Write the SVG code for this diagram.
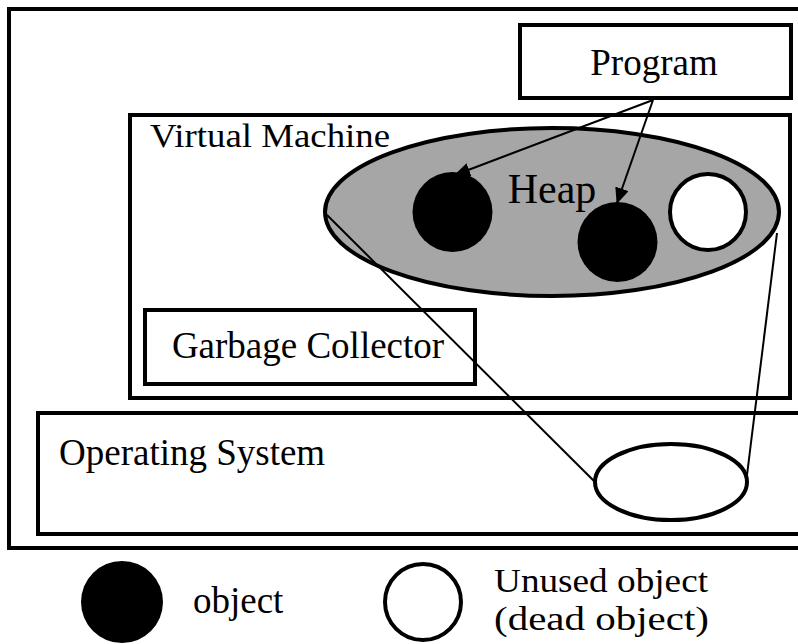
<svg xmlns="http://www.w3.org/2000/svg" width="798" height="644" viewBox="0 0 798 644">
  <style>
    .box { fill: #ffffff; stroke: #000000; stroke-width: 4; }
    .lbl { font-family: "Liberation Serif", "Times New Roman", serif; font-size: 37px; fill: #000000; }
    .sm { font-size: 34px; }
    .big { font-size: 42px; }
    .obj { fill: #000000; }
    .dead { fill: #ffffff; stroke: #000000; stroke-width: 4; }
    .wire { fill: none; stroke: #000000; stroke-width: 2; }
    .ref { fill: none; stroke: #000000; stroke-width: 2; marker-end: url(#arrow); }
  </style>
  <defs>
    <marker id="arrow" markerUnits="userSpaceOnUse" markerWidth="16" markerHeight="14" refX="15" refY="7" orient="auto">
      <path d="M0,0 L16,7 L0,14 Z" fill="#000000"/>
    </marker>
  </defs>

  <rect width="798" height="644" fill="#ffffff"/>

  <!-- whole computer -->
  <g id="computer">
    <rect class="box" x="9" y="9" width="800" height="539"/>
  </g>

  <g id="program">
    <rect class="box" x="520" y="25" width="271" height="73"/>
    <text class="lbl" x="654" y="75" text-anchor="middle">Program</text>
  </g>

  <g id="virtual-machine">
    <rect class="box" x="130" y="115" width="660" height="283"/>
    <text class="lbl sm" x="150" y="147" textLength="240" lengthAdjust="spacingAndGlyphs">Virtual Machine</text>
  </g>

  <g id="garbage-collector">
    <rect class="box" x="145" y="310" width="330" height="74"/>
    <text class="lbl" x="308" y="358" text-anchor="middle">Garbage Collector</text>
  </g>

  <g id="operating-system">
    <rect class="box" x="38" y="413" width="770" height="121"/>
    <text class="lbl" x="59" y="465">Operating System</text>
  </g>

  <g id="heap">
    <ellipse cx="552" cy="212" rx="227" ry="84" fill="#a6a6a6" stroke="#000000" stroke-width="4"/>
    <text class="lbl big" x="552" y="202.5" text-anchor="middle">Heap</text>
  </g>

  <g id="heap-in-os">
    <ellipse class="box" cx="671" cy="482" rx="76" ry="38"/>
  </g>

  <!-- connectors -->
  <g id="connectors">
    <line class="ref" x1="653" y1="100" x2="455" y2="175"/>
    <line class="ref" x1="653" y1="100" x2="617" y2="203"/>
    <line class="wire" x1="327" y1="215" x2="594" y2="481"/>
    <line class="wire" x1="777" y1="233" x2="747" y2="475"/>
  </g>

  <g id="object-a">
    <circle class="obj" cx="452.5" cy="212" r="40"/>
  </g>
  <g id="object-b">
    <circle class="obj" cx="617.5" cy="242" r="40"/>
  </g>
  <g id="object-dead">
    <circle class="dead" cx="708" cy="212" r="38"/>
  </g>

  <!-- legend -->
  <g id="legend-object">
    <ellipse class="obj" cx="122" cy="602" rx="41" ry="41"/>
    <text class="lbl" x="193" y="613">object</text>
  </g>
  <g id="legend-dead">
    <ellipse class="dead" cx="423" cy="602" rx="38" ry="38"/>
    <text class="lbl sm" x="494" y="592" textLength="214" lengthAdjust="spacingAndGlyphs">Unused object</text>
    <text class="lbl sm" x="494" y="630" textLength="215" lengthAdjust="spacingAndGlyphs">(dead object)</text>
  </g>
</svg>
